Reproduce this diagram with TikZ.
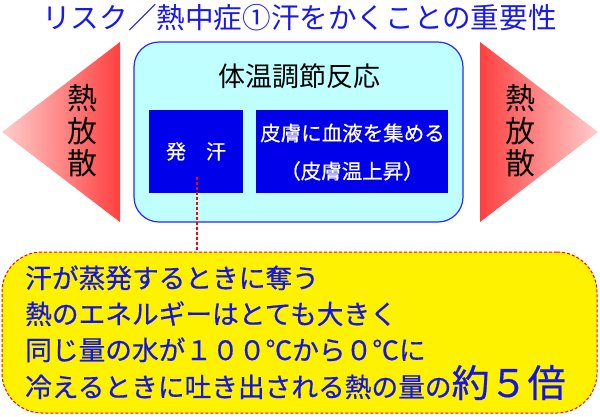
\documentclass[tikz,border=0pt]{standalone}
\usepackage{fontspec}
\setmainfont{Noto Sans CJK JP}
\newfontfamily\memofont{Noto Sans CJK JP}[FakeBold=0.5]
\definecolor{titleblue}{RGB}{25,25,235}
\definecolor{boxblue}{RGB}{0,0,235}
\definecolor{cyanfill}{RGB}{192,255,255}
\definecolor{cyanborder}{RGB}{40,40,255}
\definecolor{memoblue}{RGB}{20,20,230}
\definecolor{redbase}{RGB}{255,64,64}
\definecolor{pinklight}{RGB}{255,205,205}
\begin{document}
\begin{tikzpicture}[x=1pt,y=-1pt,
  ttl/.style={font=\fontsize{28.6}{30}\selectfont, text=titleblue, inner sep=0pt, anchor=base},
  panel/.style={draw=cyanborder, fill=cyanfill, rounded corners=25pt, line width=1.2pt, inner sep=0pt},
  heading/.style={font=\fontsize{27}{30}\selectfont, text=black, inner sep=0pt, anchor=base},
  bluebox/.style={fill=boxblue, text=white, font=\memofont\fontsize{20}{24}\selectfont, inner sep=0pt},
  whitetxt/.style={text=white, font=\memofont\fontsize{20.5}{24}\selectfont, inner sep=0pt, anchor=base},
  vtext/.style={font=\fontsize{30}{32.5}\selectfont, align=center, text=black, inner sep=0pt},
  memo/.style={fill=yellow, draw=red, dash pattern=on 3pt off 2pt, rounded corners=40pt, line width=1pt, inner sep=0pt},
  memotxt/.style={font=\memofont\fontsize{26.7}{30}\selectfont, text=memoblue, inner sep=0pt, anchor=base west},
  leader/.style={draw=red, dash pattern=on 3pt off 2pt, line width=1.2pt}
]
\useasboundingbox (0,0) rectangle (600,416);
\fill[white] (0,0) rectangle (600,416);

% heat-release triangles
\shade[left color=pinklight, right color=redbase] (120,42) -- (120,222) -- (2,132) -- cycle;
\shade[left color=redbase, right color=pinklight] (480,42) -- (480,222) -- (598,132) -- cycle;

\node[ttl] (title) at (299.5,28.4) {リスク／熱中症①汗をかくことの重要性};

\node[panel, minimum width=329pt, minimum height=180pt] (panel) at (298.5,132) {};
\node[heading] (hd) at (299,86) {体温調節反応};

\node[bluebox, minimum width=94pt, minimum height=83pt] (sweat) at (196,151.5) {発　汗};
\node[bluebox, minimum width=192pt, minimum height=83pt] (skin) at (352,151.5) {};
\node[whitetxt] (skin1) at (352.5,140.8) {皮膚に血液を集める};
\node[whitetxt] (skin2) at (352,178.8) {（皮膚温上昇）};

\node[vtext] (lheat) at (82,131) {熱\\放\\散};
\node[vtext] (rheat) at (520,131) {熱\\放\\散};

\node[memo, minimum width=595pt, minimum height=161pt] (memo) at (299.5,332.5) {};

\coordinate (dstart) at (197,177);
\draw[leader] (dstart) -- (dstart |- memo.north);

\node[memotxt] (m1) at (25,288) {汗が蒸発するときに奪う};
\node[memotxt] (m2) at (25,324) {熱のエネルギーはとても大きく};
\node[memotxt] (m3) at (25,360) {同じ量の水が１００℃から０℃に};
\node[memotxt] (m4) at (25,397) {冷えるときに吐き出される熱の量の{\fontsize{38}{40}\selectfont 約５倍}};
\end{tikzpicture}
\end{document}
